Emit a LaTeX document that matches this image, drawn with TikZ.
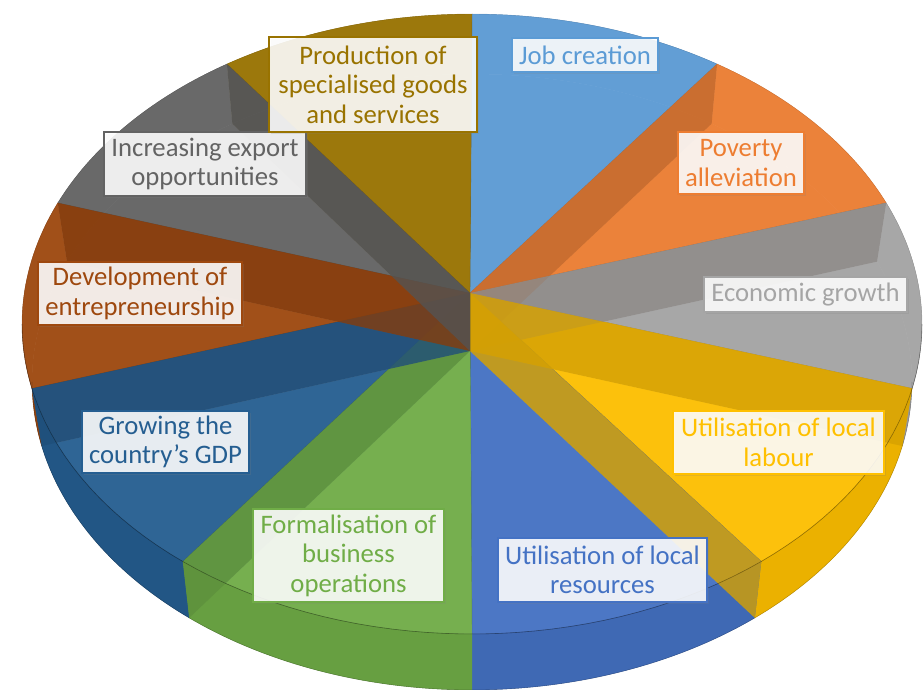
\documentclass[tikz,border=0pt]{standalone}
\usepackage{fontspec}
\setmainfont{Carlito}
\usepackage{tikz}
\usetikzlibrary{shadows}
\definecolor{jobc}{HTML}{5B9BD5}
\definecolor{povc}{HTML}{ED7D31}
\definecolor{ecoc}{HTML}{A5A5A5}
\definecolor{labc}{HTML}{FFC000}
\definecolor{resc}{HTML}{4472C4}
\definecolor{forc}{HTML}{70AD47}
\definecolor{gdpc}{HTML}{255E91}
\definecolor{devc}{HTML}{9E480E}
\definecolor{expc}{HTML}{636363}
\definecolor{proc}{HTML}{997300}
% slices: start angle / end angle / colour
\newcommand{\slices}{-90/-57/jobc, -57/-23/povc, -23/12/ecoc, 12/50/labc, 50/90/resc,
  90/130/forc, 130/168/gdpc, 168/203/devc, 203/237/expc, 237/270/proc}
\tikzset{
  declare function={tx(\t)=472+450*cos(\t); ty(\t)=324+310*sin(\t);
    bx(\t)=472+440*cos(\t); by(\t)=382+308*sin(\t);},
  floor/.style={fill=#1!93!black},
  rim/.style={fill=#1!92!black},
  face/.style={fill=#1!94!white, fill opacity=0.86, draw=#1!70!black, draw opacity=0.45, line width=0.4pt},
  wall/.style={fill=#1!84!black, fill opacity=0.8},
  lbl/.style={draw=#1, text=#1, fill=white, fill opacity=0.88, text opacity=1,
    line width=1.2pt, align=center, inner xsep=6pt, inner ysep=3pt,
    font=\fontsize{26.7}{29.5}\selectfont,
    drop shadow={shadow xshift=2pt, shadow yshift=-2pt, opacity=0.2}},
}

\begin{document}
\begin{tikzpicture}[x=1pt, y=-1pt]
  \useasboundingbox (0,0) rectangle (923,690);
  \coordinate (top) at (470,293); % apex of the upper face
  \coordinate (bot) at (470,351); % apex of the lower face

  % lower face and outer rim
  \foreach \a/\b/\col in \slices
    \fill[floor=\col] (bot) -- plot[domain=\a:\b, samples=40] ({bx(\x)},{by(\x)}) -- cycle;
  \foreach \a/\b/\col in \slices
    \fill[rim=\col] plot[domain=\a:\b, samples=40] ({tx(\x)},{ty(\x)})
      -- plot[domain=\b:\a, samples=40] ({bx(\x)},{by(\x)}) -- cycle;

  % upper face, see-through
  \foreach \a/\b/\col in \slices
    \filldraw[face=\col] (top) -- plot[domain=\a:\b, samples=40] ({tx(\x)},{ty(\x)}) -- cycle;

  % cut walls between slices
  \foreach \t/\col in {-57/povc, -23/ecoc, 12/labc, 50/labc, 130/forc, 168/gdpc, 203/devc, 237/expc}
    \fill[wall=\col] (top) -- ({tx(\t)},{ty(\t)}) -- ({bx(\t)},{by(\t)}) -- (bot) -- cycle;

  % front edges
  \draw[black, opacity=0.35, line width=0.6pt] plot[domain=0:180, samples=80] ({tx(\x)},{ty(\x)});
  \draw[black, opacity=0.2, line width=0.6pt] plot[domain=0:180, samples=80] ({bx(\x)},{by(\x)});

  % labels
  \node[lbl=jobc, minimum width=146pt, minimum height=34pt] (job) at (585,55) {Job creation};
  \node[lbl=povc, minimum width=126pt, minimum height=62pt] (pov) at (741,163) {Poverty\\alleviation};
  \node[lbl=ecoc, minimum width=203pt, minimum height=35pt] (eco) at (805.5,294.5) {Economic growth};
  \node[lbl=labc, minimum width=211pt, minimum height=63pt] (lab) at (778.5,442.5) {Utilisation of local\\labour};
  \node[lbl=resc, minimum width=209pt, minimum height=64pt] (res) at (602.5,570) {Utilisation of local\\resources};
  \node[lbl=forc, minimum width=191pt, minimum height=93pt] (for) at (348.5,555.5) {Formalisation of\\business\\operations};
  \node[lbl=gdpc, minimum width=167pt, minimum height=62pt] (gdp) at (165.5,442) {Growing the\\country’s GDP};
  \node[lbl=devc, minimum width=204pt, minimum height=63pt] (dev) at (140,293.5) {Development of\\entrepreneurship};
  \node[lbl=expc, minimum width=202pt, minimum height=64pt] (exp) at (205,164) {Increasing export\\opportunities};
  \node[lbl=proc, minimum width=208pt, minimum height=95pt] (pro) at (373,84.5) {Production of\\specialised goods\\and services};
\end{tikzpicture}
\end{document}
